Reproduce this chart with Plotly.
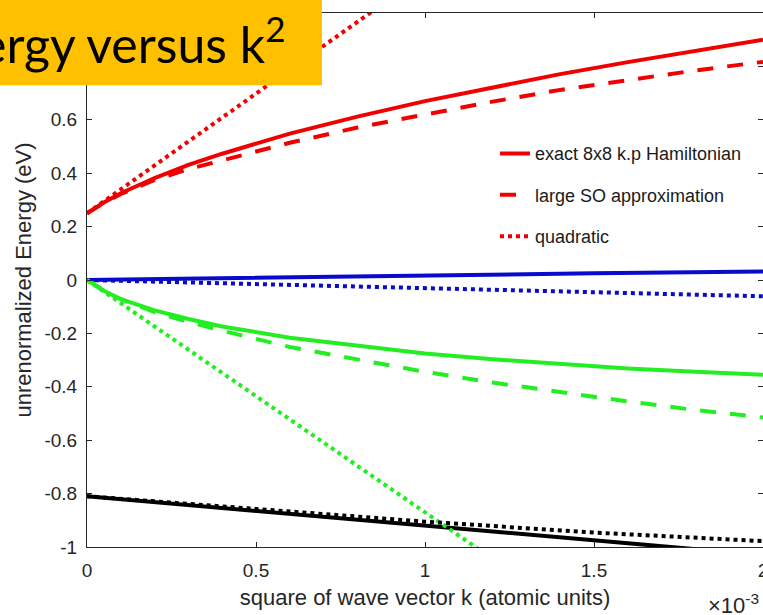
import plotly.graph_objects as go

# ---- data (x in units of 1e-3, atomic units of k^2) ----
k2 = [0, 0.05, 0.1, 0.2, 0.3, 0.4, 0.6, 0.8, 1.0, 1.2, 1.4, 1.6, 1.8, 2.0]
cb_exact = [0.25, 0.290, 0.325, 0.382, 0.431, 0.473, 0.548, 0.612, 0.670, 0.722, 0.771, 0.816, 0.859, 0.900]
cb_largeSO = [0.25, 0.289, 0.322, 0.375, 0.415, 0.449, 0.514, 0.571, 0.621, 0.668, 0.712, 0.750, 0.785, 0.817]
lh_exact = [0, -0.040, -0.072, -0.114, -0.146, -0.174, -0.216, -0.246, -0.275, -0.297, -0.315, -0.331, -0.344, -0.355]
lh_largeSO = [0, -0.040, -0.072, -0.120, -0.157, -0.190, -0.251, -0.298, -0.344, -0.384, -0.420, -0.455, -0.487, -0.515]

k2_coarse = [0, 0.5, 1.0, 1.5, 2.0]
cb_quad = [0.25, 0.698, 1.146, 1.594, 2.042]
hh_exact = [0, 0.009, 0.018, 0.025, 0.032]
hh_quad = [0, -0.015, -0.030, -0.045, -0.061]
lh_quad = [0, -0.435, -0.870, -1.305, -1.740]
so_exact = [-0.81, -0.865, -0.920, -0.975, -1.030]
so_quad = [-0.81, -0.859, -0.905, -0.946, -0.978]

x_tickvals = [0, 0.5, 1, 1.5, 2]
x_ticktext = ["0", "0.5", "1", "1.5", "2"]
y_tickvals = [-1, -0.8, -0.6, -0.4, -0.2, 0, 0.2, 0.4, 0.6, 0.8, 1]
y_ticktext = ["-1", "-0.8", "-0.6", "-0.4", "-0.2", "0", "0.2", "0.4", "0.6", "0.8", "1"]

legend_names = ["exact 8x8 k.p Hamiltonian", "large SO approximation", "quadratic"]

RED = "#f00000"
BLUE = "#0a0acc"
GREEN = "#22ee22"
BLACK = "#000000"
LW = 4
DASH = "16px,14px"
DOT = "4px,4px"

fig = go.Figure()

def add(x, y, color, dash, name=None, group=None):
    fig.add_trace(go.Scatter(
        x=x, y=y, mode="lines",
        line=dict(color=color, width=LW, dash=dash),
        name=name if name else "",
        showlegend=name is not None,
        legendgroup=group,
        hoverinfo="skip",
    ))

# solid (exact)
add(k2, cb_exact, RED, "solid", legend_names[0], "g1")
add(k2_coarse, hh_exact, BLUE, "solid")
add(k2, lh_exact, GREEN, "solid")
add(k2_coarse, so_exact, BLACK, "solid")
# dashed (large SO)
add(k2, cb_largeSO, RED, DASH, legend_names[1], "g2")
add(k2, lh_largeSO, GREEN, DASH)
# dotted (quadratic)
add(k2_coarse, cb_quad, RED, DOT, legend_names[2], "g3")
add(k2_coarse, hh_quad, BLUE, DOT)
add(k2_coarse, lh_quad, GREEN, DOT)
add(k2_coarse, so_quad, BLACK, DOT)

AX = "#262626"
FONT = "Liberation Sans, Arial, sans-serif"

fig.update_layout(
    width=763, height=615,
    margin=dict(l=87, r=0, t=13, b=68, autoexpand=False),
    paper_bgcolor="white", plot_bgcolor="white",
    font=dict(family=FONT, size=18, color=AX),
    showlegend=True,
    legend=dict(
        x=(495 - 87) / 676, y=(546.7 - 135) / 533.9,
        xanchor="left", yanchor="top",
        bgcolor="rgba(255,255,255,0)", borderwidth=0,
        font=dict(family=FONT, size=18, color="#1a1a1a"),
        tracegroupgap=15,
    ),
    xaxis=dict(
        range=[0, 2], tickvals=x_tickvals, ticktext=x_ticktext,
        showgrid=False, zeroline=False,
        showline=True, linecolor=AX, linewidth=1, mirror="ticks",
        ticks="inside", ticklen=5, tickcolor=AX, tickwidth=1,
        tickfont=dict(family=FONT, size=19, color=AX),
        ticklabelstandoff=6, ticklabeloverflow="allow",
        title=dict(text="square of wave vector k (atomic units)",
                   font=dict(family=FONT, size=22, color=AX), standoff=9),
    ),
    yaxis=dict(
        range=[-1, 1], tickvals=y_tickvals, ticktext=y_ticktext,
        showgrid=False, zeroline=False,
        showline=True, linecolor=AX, linewidth=1, mirror="ticks",
        ticks="inside", ticklen=5, tickcolor=AX, tickwidth=1,
        tickfont=dict(family=FONT, size=19, color=AX),
        ticklabelstandoff=5,
        title=dict(text="unrenormalized Energy (eV)",
                   font=dict(family=FONT, size=22, color=AX), standoff=6),
    ),
    shapes=[dict(
        type="rect", xref="paper", yref="paper",
        x0=-0.3, x1=(322 - 87) / 676, y0=(546.7 - 85) / 533.9, y1=1.2,
        fillcolor="#ffc000", line=dict(width=0), layer="above",
    )],
    annotations=[
        dict(text="Energy versus k<sup>2</sup>", xref="paper", yref="paper",
             x=(288 - 87) / 676, y=(546.7 - 40) / 533.9,
             xanchor="right", yanchor="middle", showarrow=False,
             font=dict(family="Lato, Carlito, sans-serif", size=50, color="black")),
        dict(text="\u00d710<sup>-3</sup>", xref="paper", yref="paper",
             x=(706 - 87) / 676, y=(546.7 - 604) / 533.9,
             xanchor="left", yanchor="middle", showarrow=False,
             font=dict(family=FONT, size=22, color=AX)),
    ],
)

fig.write_html("out.html")
